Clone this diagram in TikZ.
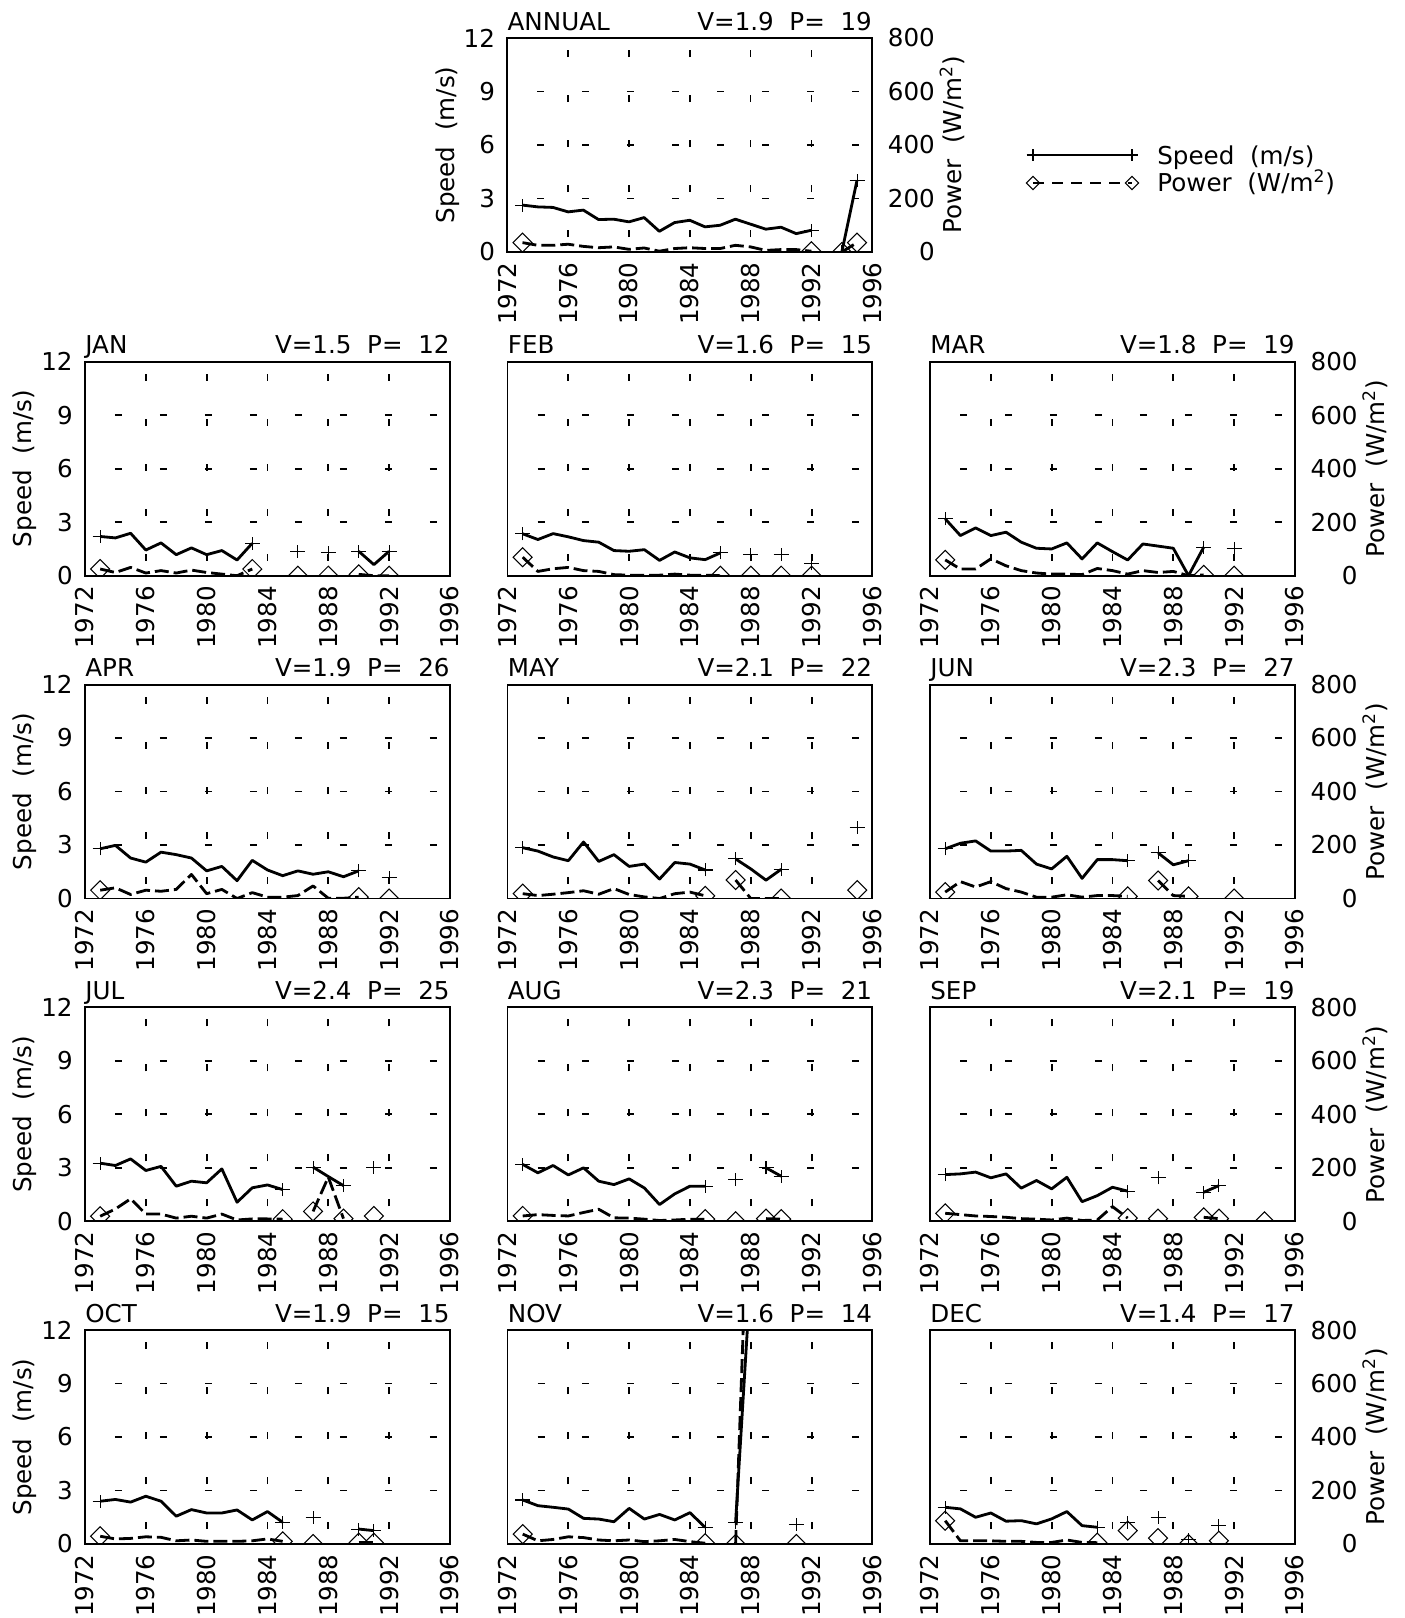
\documentclass[tikz,border=0pt]{standalone}
\usepackage{fontspec}
\setmainfont{DejaVu Sans}

\newcommand{\windpanel}[6]{%
  \node[frame, anchor=south west] (#1) at (#2,#3) {};
  \node[title, anchor=base west] (#1-name) at ([yshift=0.16cm]#1.north west) {#4};
  \node[title, anchor=base east] (#1-vp) at ([yshift=0.16cm]#1.north east) {V=#5\ \ P=\ \ #6};
  \begin{scope}[panel=#1]
    \foreach \yr in {76,80,...,92} \draw[gridline, dash phase=0.6cm] (\yr,0) -- (\yr,12);
    \foreach \v in {3,6,9} \draw[gridline] (72,\v) -- (96,\v);
    \foreach \yr in {72,76,...,96}
      \node[ticklab, rotate=90, anchor=east] (#1-x\yr) at ([yshift=-0.2cm]\yr,0) {19\yr};
  \end{scope}
}
\newcommand{\speedaxis}[1]{%
  \begin{scope}[panel=#1]
    \foreach \v in {0,3,...,12}
      \node[ticklab, anchor=east] (#1-s\v) at ([xshift=-0.24cm]72,\v) {\v};
    \node[ticklab, rotate=90] (#1-sl) at ([xshift=-1.2cm]72,6) {Speed\ \ (m/s)};
  \end{scope}
}
\newcommand{\poweraxis}[1]{%
  \begin{scope}[panel=#1]
    \foreach \p in {0,200,...,800}
      \node[ticklab, anchor=east] (#1-p\p) at ([xshift=1.26cm]96,\p*0.015) {\p};
    \node[ticklab, rotate=90] (#1-pl) at ([xshift=1.6cm]96,6) {Power\ \ (W/m\textsuperscript{2})};
  \end{scope}
}
\newcommand{\spdmarks}[1]{\foreach \x/\y in {#1} {\pic at (\x,\y) {spdmark};}}
\newcommand{\pwrmarks}[1]{\foreach \x/\y in {#1} {\pic at (\x,\y) {pwrmark};}}

\begin{document}
\begin{tikzpicture}[x=0.02cm, y=-0.02cm,
  frame/.style={draw, line width=1.1pt, minimum width=7.3cm, minimum height=4.28cm, inner sep=0pt, outer sep=0pt},
  title/.style={inner sep=0pt, font=\fontsize{14}{16}\selectfont},
  ticklab/.style={inner sep=0pt, font=\fontsize{14}{16}\selectfont},
  gridline/.style={line width=1pt, dash pattern=on 0.14cm off 0.76cm, dash phase=0.3cm},
  panel/.style={shift={(#1.south west)}, x=0.30417cm, y=0.35667cm, shift={(-72,0)}},
  spd/.style={line width=1.6pt, line join=round},
  pwr/.style={line width=1.6pt, line join=round, dash pattern=on 0.28cm off 0.1cm},
  spdmark/.pic={\draw[line width=0.6pt] (-0.15cm,0cm) -- (0.15cm,0cm) (0cm,-0.13cm) -- (0cm,0.13cm);},
  pwrmark/.pic={\draw[line width=0.6pt] (-0.19cm,0cm) -- (0cm,0.19cm) -- (0.19cm,0cm) -- (0cm,-0.19cm) -- cycle;},
]
  \useasboundingbox (0,0) rectangle (1405,1618);

  \windpanel{annual}{507.3}{252}{ANNUAL}{1.9}{19}
  \windpanel{jan}{85}{575.7}{JAN}{1.5}{12}
  \windpanel{feb}{507.5}{575.7}{FEB}{1.6}{15}
  \windpanel{mar}{930}{575.7}{MAR}{1.8}{19}
  \windpanel{apr}{85}{898.5}{APR}{1.9}{26}
  \windpanel{may}{507.5}{898.5}{MAY}{2.1}{22}
  \windpanel{jun}{930}{898.5}{JUN}{2.3}{27}
  \windpanel{jul}{85}{1221.3}{JUL}{2.4}{25}
  \windpanel{aug}{507.5}{1221.3}{AUG}{2.3}{21}
  \windpanel{sep}{930}{1221.3}{SEP}{2.1}{19}
  \windpanel{oct}{85}{1544}{OCT}{1.9}{15}
  \windpanel{nov}{507.5}{1544}{NOV}{1.6}{14}
  \windpanel{dec}{930}{1544}{DEC}{1.4}{17}

  \foreach \m in {annual,jan,apr,jul,oct} {\speedaxis{\m}}
  \foreach \m in {annual,mar,jun,sep,dec} {\poweraxis{\m}}

  % legend
  \coordinate (lg-s1) at (1033,155);
  \coordinate (lg-s2) at (1132,155);
  \coordinate (lg-p1) at (1033,183);
  \coordinate (lg-p2) at (1132,183);
  \draw[line width=0.6pt] (lg-s1) -- (lg-s2);
  \draw[line width=0.6pt, dash pattern=on 0.22cm off 0.16cm] (lg-p1) -- (lg-p2);
  \pic[scale=0.85] at (lg-s1) {spdmark};
  \pic[scale=0.85] at (lg-s2) {spdmark};
  \pic[scale=0.7] at (lg-p1) {pwrmark};
  \pic[scale=0.7] at (lg-p2) {pwrmark};
  \node[title, anchor=base west] (lg-st) at (1157,165) {Speed\ \ (m/s)};
  \node[title, anchor=base west] (lg-pt) at (1157,192) {Power\ \ (W/m\textsuperscript{2})};

  \begin{scope}[panel=annual]
    \clip (72,0) rectangle (96,12);
    \draw[spd] plot coordinates {(73,2.63) (74,2.53) (75,2.5) (76,2.25) (77,2.35) (78,1.82) (79,1.84) (80,1.69) (81,1.93) (82,1.16) (83,1.65) (84,1.78) (85,1.41) (86,1.5) (87,1.84) (88,1.56) (89,1.28) (90,1.39) (91,1.03) (92,1.22)};
    \draw[spd] plot coordinates {(94,0) (95,4.03)};
    \spdmarks{73/2.63, 92/1.22, 94/0, 95/4.03}
    \begin{scope}[y=0.00535cm]
      \draw[pwr] plot coordinates {(73,35) (74,25) (75,25) (76,29) (77,21) (78,16) (79,19) (80,10) (81,15) (82,3) (83,13) (84,16) (85,13) (86,13) (87,25) (88,19) (89,6) (90,9) (91,9) (92,3)};
      \draw[pwr] plot coordinates {(94,0) (95,35)};
      \pwrmarks{73/35, 92/3, 94/0, 95/35}
    \end{scope}
  \end{scope}

  \begin{scope}[panel=jan]
    \clip (72,0) rectangle (96,12);
    \draw[spd] plot coordinates {(73,2.2) (74,2.12) (75,2.38) (76,1.44) (77,1.84) (78,1.18) (79,1.56) (80,1.18) (81,1.41) (82,0.88) (83,1.82)};
    \draw[spd] plot coordinates {(90,1.37) (91,0.62) (92,1.37)};
    \spdmarks{73/2.2, 83/1.82, 86/1.37, 88/1.28, 90/1.37, 92/1.37}
    \begin{scope}[y=0.00535cm]
      \draw[pwr] plot coordinates {(73,25) (74,12) (75,31) (76,10) (77,19) (78,10) (79,21) (80,12) (81,6) (82,0) (83,25)};
      \draw[pwr] plot coordinates {(90,5) (91,0) (92,0)};
      \pwrmarks{73/25, 83/25, 86/0, 88/0, 90/5, 92/0}
    \end{scope}
  \end{scope}

  \begin{scope}[panel=feb]
    \clip (72,0) rectangle (96,12);
    \draw[spd] plot coordinates {(73,2.35) (74,2.03) (75,2.36) (76,2.18) (77,1.97) (78,1.88) (79,1.41) (80,1.37) (81,1.46) (82,0.86) (83,1.33) (84,1.0) (85,0.9) (86,1.28)};
    \spdmarks{73/2.35, 86/1.28, 88/1.18, 90/1.18, 92/0.66}
    \begin{scope}[y=0.00535cm]
      \draw[pwr] plot coordinates {(73,69) (74,16) (75,26) (76,31) (77,19) (78,16) (79,4) (80,2) (81,2) (82,2) (83,6) (84,2) (85,2) (86,0)};
      \pwrmarks{73/69, 86/0, 88/0, 90/0, 92/0}
    \end{scope}
  \end{scope}

  \begin{scope}[panel=mar]
    \clip (72,0) rectangle (96,12);
    \draw[spd] plot coordinates {(73,3.19) (74,2.25) (75,2.68) (76,2.25) (77,2.44) (78,1.88) (79,1.54) (80,1.5) (81,1.84) (82,0.94) (83,1.84) (84,1.35) (85,0.88) (86,1.78) (87,1.66) (88,1.54) (89,0) (90,1.6)};
    \spdmarks{73/3.19, 90/1.6, 92/1.5}
    \begin{scope}[y=0.00535cm]
      \draw[pwr] plot coordinates {(73,59) (74,25) (75,25) (76,63) (77,37) (78,19) (79,10) (80,6) (81,6) (82,4) (83,27) (84,19) (85,6) (86,19) (87,12) (88,16) (89,0) (90,3)};
      \pwrmarks{73/59, 90/3, 92/0}
    \end{scope}
  \end{scope}

  \begin{scope}[panel=apr]
    \clip (72,0) rectangle (96,12);
    \draw[spd] plot coordinates {(73,2.79) (74,2.98) (75,2.27) (76,2.04) (77,2.6) (78,2.46) (79,2.27) (80,1.55) (81,1.8) (82,1.0) (83,2.14) (84,1.6) (85,1.28) (86,1.55) (87,1.36) (88,1.5) (89,1.22) (90,1.55)};
    \spdmarks{73/2.79, 90/1.55, 92/1.17}
    \begin{scope}[y=0.00535cm]
      \draw[pwr] plot coordinates {(73,31) (74,40) (75,15) (76,31) (77,27) (78,34) (79,90) (80,18) (81,34) (82,0) (83,22) (84,5) (85,5) (86,11) (87,47) (88,1) (89,1) (90,5)};
      \pwrmarks{73/31, 90/5, 92/0}
    \end{scope}
  \end{scope}

  \begin{scope}[panel=may]
    \clip (72,0) rectangle (96,12);
    \draw[spd] plot coordinates {(73,2.85) (74,2.66) (75,2.33) (76,2.12) (77,3.17) (78,2.08) (79,2.46) (80,1.8) (81,1.93) (82,1.09) (83,2.02) (84,1.93) (85,1.6)};
    \draw[spd] plot coordinates {(87,2.22) (88,1.66) (89,1.03) (90,1.64)};
    \spdmarks{73/2.85, 85/1.6, 87/2.22, 90/1.64, 95/3.99}
    \begin{scope}[y=0.00535cm]
      \draw[pwr] plot coordinates {(73,18) (74,11) (75,16) (76,22) (77,29) (78,16) (79,37) (80,15) (81,6) (82,0) (83,18) (84,24) (85,10)};
      \draw[pwr] plot coordinates {(87,69) (88,0) (89,0) (90,0)};
      \pwrmarks{73/18, 85/10, 87/69, 90/0, 95/31}
    \end{scope}
  \end{scope}

  \begin{scope}[panel=jun]
    \clip (72,0) rectangle (96,12);
    \draw[spd] plot coordinates {(73,2.79) (74,3.1) (75,3.23) (76,2.66) (77,2.66) (78,2.7) (79,1.93) (80,1.66) (81,2.37) (82,1.13) (83,2.18) (84,2.18) (85,2.12)};
    \draw[spd] plot coordinates {(87,2.56) (88,1.89) (89,2.12)};
    \spdmarks{73/2.79, 85/2.12, 87/2.56, 89/2.12}
    \begin{scope}[y=0.00535cm]
      \draw[pwr] plot coordinates {(73,24) (74,63) (75,43) (76,63) (77,37) (78,24) (79,5) (80,5) (81,14) (82,5) (83,11) (84,11) (85,8)};
      \draw[pwr] plot coordinates {(87,67) (88,11) (89,8)};
      \pwrmarks{73/24, 85/8, 87/67, 89/8, 92/0}
    \end{scope}
  \end{scope}

  \begin{scope}[panel=jul]
    \clip (72,0) rectangle (96,12);
    \draw[spd] plot coordinates {(73,3.26) (74,3.13) (75,3.5) (76,2.85) (77,3.08) (78,1.97) (79,2.25) (80,2.16) (81,2.94) (82,1.07) (83,1.88) (84,2.04) (85,1.78)};
    \draw[spd] plot coordinates {(87,3.04) (88,2.51) (89,2.0)};
    \spdmarks{73/3.26, 85/1.78, 87/3.04, 89/2.0, 91/3.04}
    \begin{scope}[y=0.00535cm]
      \draw[pwr] plot coordinates {(73,19) (74,46) (75,84) (76,27) (77,27) (78,12) (79,19) (80,12) (81,27) (82,5) (83,9) (84,9) (85,8)};
      \draw[pwr] plot coordinates {(87,37) (88,165) (89,10)};
      \pwrmarks{73/19, 85/8, 87/37, 89/10, 91/20}
    \end{scope}
  \end{scope}

  \begin{scope}[panel=aug]
    \clip (72,0) rectangle (96,12);
    \draw[spd] plot coordinates {(73,3.19) (74,2.72) (75,3.13) (76,2.6) (77,3.0) (78,2.25) (79,2.06) (80,2.38) (81,1.87) (82,0.94) (83,1.54) (84,1.97) (85,1.97)};
    \draw[spd] plot coordinates {(89,3.0) (90,2.53)};
    \spdmarks{73/3.19, 85/1.97, 87/2.34, 89/3.0, 90/2.53}
    \begin{scope}[y=0.00535cm]
      \draw[pwr] plot coordinates {(73,20) (74,25) (75,22) (76,20) (77,33) (78,45) (79,13) (80,12) (81,8) (82,3) (83,5) (84,8) (85,8)};
      \draw[pwr] plot coordinates {(89,10) (90,8)};
      \pwrmarks{73/20, 85/8, 87/0, 89/10, 90/8}
    \end{scope}
  \end{scope}

  \begin{scope}[panel=sep]
    \clip (72,0) rectangle (96,12);
    \draw[spd] plot coordinates {(73,2.62) (74,2.66) (75,2.76) (76,2.44) (77,2.66) (78,1.86) (79,2.29) (80,1.82) (81,2.47) (82,1.1) (83,1.44) (84,1.91) (85,1.69)};
    \draw[spd] plot coordinates {(90,1.63) (91,2.0)};
    \spdmarks{73/2.62, 85/1.69, 87/2.44, 90/1.63, 91/2.0}
    \begin{scope}[y=0.00535cm]
      \draw[pwr] plot coordinates {(73,30) (74,25) (75,20) (76,18) (77,15) (78,10) (79,8) (80,5) (81,12) (82,3) (83,5) (84,55) (85,12)};
      \draw[pwr] plot coordinates {(90,15) (91,10)};
      \pwrmarks{73/30, 85/12, 87/10, 90/15, 91/10, 94/0}
    \end{scope}
  \end{scope}

  \begin{scope}[panel=oct]
    \clip (72,0) rectangle (96,12);
    \draw[spd] plot coordinates {(73,2.4) (74,2.5) (75,2.35) (76,2.68) (77,2.4) (78,1.56) (79,1.93) (80,1.74) (81,1.74) (82,1.91) (83,1.35) (84,1.82) (85,1.22)};
    \draw[spd] plot coordinates {(90,0.84) (91,0.75)};
    \spdmarks{73/2.4, 85/1.22, 87/1.5, 90/0.84, 91/0.75}
    \begin{scope}[y=0.00535cm]
      \draw[pwr] plot coordinates {(73,29) (74,19) (75,21) (76,27) (77,25) (78,12) (79,15) (80,10) (81,10) (82,10) (83,12) (84,19) (85,10)};
      \draw[pwr] plot coordinates {(90,5) (91,5)};
      \pwrmarks{73/29, 85/10, 87/0, 90/5, 91/5}
    \end{scope}
  \end{scope}

  \begin{scope}[panel=nov]
    \clip (72,0) rectangle (96,12);
    \draw[spd] plot coordinates {(73,2.47) (74,2.15) (75,2.06) (76,1.96) (77,1.44) (78,1.4) (79,1.25) (80,2.0) (81,1.4) (82,1.66) (83,1.35) (84,1.76) (85,0.93)};
    \draw[spd] plot coordinates {(87,1.21) (88,15.2)};
    \spdmarks{73/2.47, 85/0.93, 87/1.21, 91/1.12}
    \begin{scope}[y=0.00535cm]
      \draw[pwr] plot coordinates {(73,37) (74,12) (75,17) (76,27) (77,24) (78,15) (79,12) (80,15) (81,9) (82,12) (83,17) (84,9) (85,3)};
      \draw[pwr] plot coordinates {(87,0) (88,1600)};
      \pwrmarks{73/37, 85/3, 87/0, 91/0}
    \end{scope}
  \end{scope}

  \begin{scope}[panel=dec]
    \clip (72,0) rectangle (96,12);
    \draw[spd] plot coordinates {(73,2.06) (74,1.97) (75,1.5) (76,1.74) (77,1.28) (78,1.31) (79,1.13) (80,1.41) (81,1.82) (82,1.03) (83,0.94)};
    \spdmarks{73/2.06, 83/0.94, 85/1.22, 87/1.5, 89/0.28, 91/1.03}
    \begin{scope}[y=0.00535cm]
      \draw[pwr] plot coordinates {(73,87) (74,12) (75,12) (76,12) (77,10) (78,10) (79,6) (80,6) (81,15) (82,6) (83,5)};
      \pwrmarks{73/87, 83/5, 85/50, 87/22, 89/0, 91/12}
    \end{scope}
  \end{scope}
\end{tikzpicture}
\end{document}
